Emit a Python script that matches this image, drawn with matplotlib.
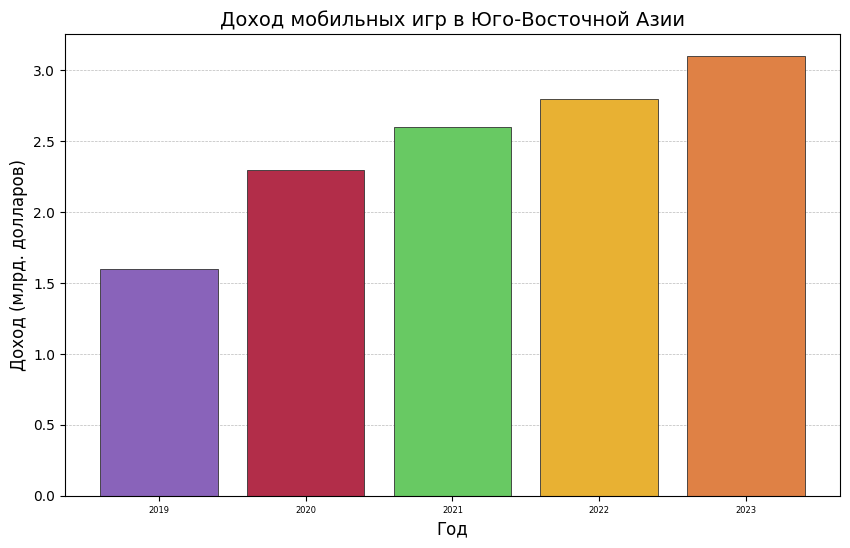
import matplotlib.pyplot as plt

years = ['2019', '2020', '2021', '2022', '2023']
revenue = [1.6, 2.3, 2.6, 2.8, 3.1]
colors = ['#8963BA', '#B22D49', '#68C963', '#E8B133', '#DF8145']

fig, ax = plt.subplots(figsize=(8.5, 5.48), dpi=100)
fig.subplots_adjust(left=0.0765, right=0.988, top=0.938, bottom=0.095)

ax.bar(years, revenue, color=colors, edgecolor='#333333', linewidth=0.6, zorder=2)
ax.yaxis.grid(True, linestyle='--', linewidth=0.5, color='#bbbbbb', zorder=0)
ax.set_axisbelow(True)

ax.set_title('Доход мобильных игр в Юго-Восточной Азии', fontsize=14)
ax.set_xlabel('Год', fontsize=12)
ax.set_ylabel('Доход (млрд. долларов)', fontsize=12)
ax.tick_params(axis='x', labelsize=6)

plt.savefig('out.png')
